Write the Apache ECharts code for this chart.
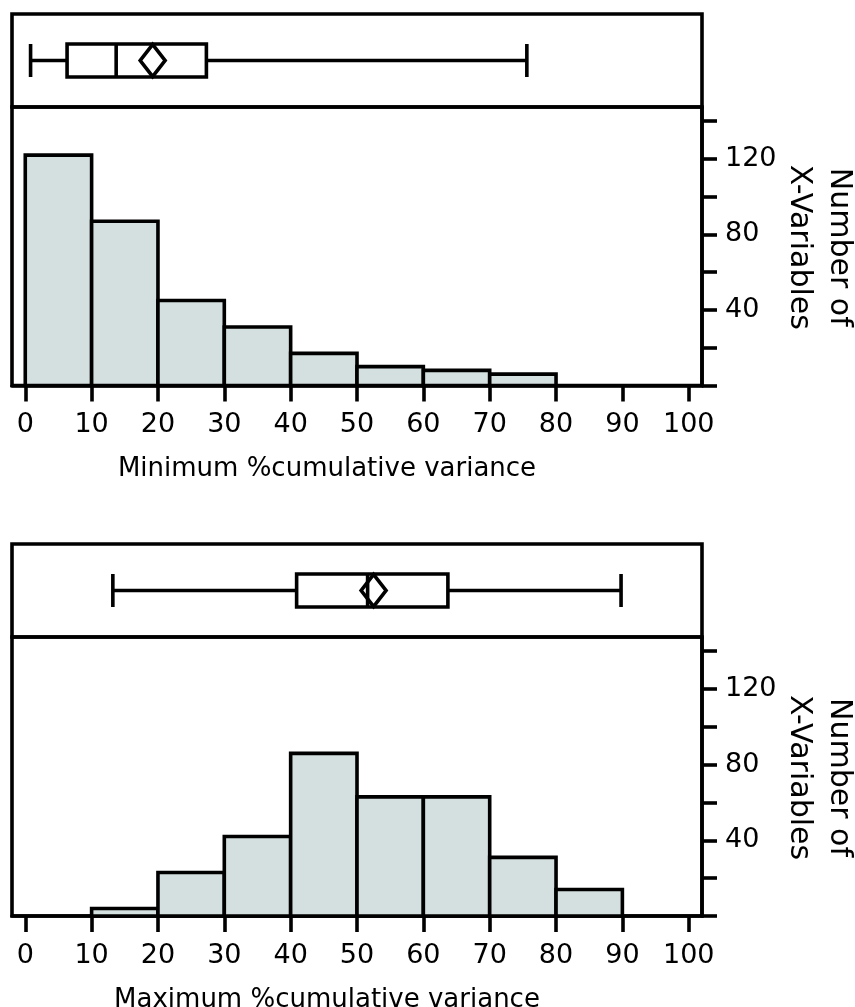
<!DOCTYPE html>
<html>
<head>
<meta charset="utf-8">
<script src="https://cdn.jsdelivr.net/npm/echarts@6/dist/echarts.min.js"></script>
<style>
  html, body { margin: 0; padding: 0; background: #ffffff; }
  #chart { width: 855px; height: 1007px; }
</style>
</head>
<body>
<div id="chart"></div>
<script>
// Histogram bins: lower edges (width 10) and counts of X-variables per bin
const minBinStarts = [0, 10, 20, 30, 40, 50, 60, 70];
const minCounts    = [122, 87, 45, 31, 17, 10, 8, 6];
const maxBinStarts = [10, 20, 30, 40, 50, 60, 70, 80];
const maxCounts    = [4, 23, 42, 86, 63, 63, 31, 14];
const binWidth = 10;

// Box summaries: [min, Q1, median, Q3, max] and mean
const minBox  = [0.8, 6.3, 13.7, 27.3, 75.6];
const minMean = 19.2;
const maxBox  = [13.2, 40.9, 51.6, 63.7, 89.8];
const maxMean = 52.5;

// Axis ticks and labels
const xTickValues  = [0, 10, 20, 30, 40, 50, 60, 70, 80, 90, 100];
const yTickValues  = [0, 20, 40, 60, 80, 100, 120, 140];
const yLabelValues = [40, 80, 120];
const xTitles = ['Minimum %cumulative variance', 'Maximum %cumulative variance'];
const yTitle = 'Number of\nX-Variables';

const FONT = 'DejaVu Sans, sans-serif';
const INK = '#000000';
const FILL = '#d4dfdf';
const LW = 3.6;

const X_MIN = -2, X_MAX = 102, Y_MAX = 147.5;

function bins(starts, counts) {
  return starts.map((s, i) => [s, s + binWidth, counts[i]]);
}

// Panel layout in pixels
const PLOT_LEFT = 12, PLOT_WIDTH = 690;
const panels = [
  { boxTop: 14,  boxH: 93, histTop: 107, histH: 278.5 },
  { boxTop: 544, boxH: 93, histTop: 637, histH: 279 }
];

const gridBase = {
  left: PLOT_LEFT, width: PLOT_WIDTH, show: true, borderColor: INK, borderWidth: LW,
  backgroundColor: 'transparent', outerBoundsMode: 'none', containLabel: false
};
const grids = [];
panels.forEach(p => {
  grids.push(Object.assign({}, gridBase, { top: p.boxTop, height: p.boxH }));
  grids.push(Object.assign({}, gridBase, { top: p.histTop, height: p.histH }));
});

function boxX(gi) {
  return { type: 'value', gridIndex: gi, min: X_MIN, max: X_MAX, show: false };
}
function histX(gi, title) {
  return {
    type: 'value', gridIndex: gi, min: X_MIN, max: X_MAX,
    axisLine: { show: true, onZero: false, lineStyle: { color: INK, width: LW } },
    axisTick: { show: true, inside: false, length: 16, customValues: xTickValues,
                lineStyle: { color: INK, width: LW } },
    axisLabel: { show: true, customValues: xTickValues, margin: 26,
                 color: INK, fontFamily: FONT, fontSize: 27 },
    splitLine: { show: false },
    name: title, nameLocation: 'middle', nameGap: 71, nameMoveOverlap: false,
    nameTextStyle: { color: INK, fontFamily: FONT, fontSize: 26, padding: [0, 60, 0, 0] }
  };
}
function boxY(gi) {
  return { type: 'category', gridIndex: gi, data: ['box'], show: false };
}
function histY(gi) {
  return {
    type: 'value', gridIndex: gi, position: 'right', min: 0, max: Y_MAX,
    axisLine: { show: true, onZero: false, lineStyle: { color: INK, width: LW } },
    axisTick: { show: true, inside: false, length: 15, customValues: yTickValues,
                lineStyle: { color: INK, width: LW } },
    axisLabel: { show: true, customValues: yLabelValues, margin: 23,
                 color: INK, fontFamily: FONT, fontSize: 27 },
    splitLine: { show: false }
  };
}

// Vertical y-axis title, read top to bottom, to the right of each histogram
function yTitleText(p) {
  return {
    type: 'text', silent: true,
    x: PLOT_LEFT + PLOT_WIDTH + 117, y: p.histTop + p.histH / 2 + 1,
    rotation: -Math.PI / 2,
    style: {
      text: yTitle, fill: INK, font: '30px ' + FONT, lineHeight: 40,
      align: 'center', verticalAlign: 'middle'
    }
  };
}

function histSeries(gi, data) {
  return {
    type: 'custom', xAxisIndex: gi, yAxisIndex: gi, data: data,
    silent: true,
    renderItem: function (params, api) {
      const p0 = api.coord([api.value(0), api.value(2)]);
      const p1 = api.coord([api.value(1), 0]);
      return {
        type: 'rect',
        shape: { x: p0[0], y: p0[1], width: p1[0] - p0[0], height: p1[1] - p0[1] },
        style: { fill: FILL, stroke: INK, lineWidth: LW }
      };
    }
  };
}
function boxSeries(gi, stats) {
  return {
    type: 'boxplot', xAxisIndex: gi, yAxisIndex: gi, data: [stats],
    boxWidth: [33, 33], silent: true,
    itemStyle: { color: '#ffffff', borderColor: INK, borderWidth: LW },
    emphasis: { disabled: true }
  };
}
function meanSeries(gi, mean) {
  return {
    type: 'scatter', xAxisIndex: gi, yAxisIndex: gi, data: [[mean, 0]],
    symbol: 'diamond', symbolSize: [25, 32], silent: true, z: 5,
    itemStyle: { color: 'rgba(0,0,0,0)', borderColor: INK, borderWidth: LW, opacity: 1 }
  };
}

const chart = echarts.init(document.getElementById('chart'), null, { renderer: 'canvas' });
chart.setOption({
  animation: false,
  backgroundColor: '#ffffff',
  grid: grids,
  xAxis: [boxX(0), histX(1, xTitles[0]), boxX(2), histX(3, xTitles[1])],
  yAxis: [boxY(0), histY(1), boxY(2), histY(3)],
  graphic: panels.map(yTitleText),
  series: [
    boxSeries(0, minBox), meanSeries(0, minMean),
    histSeries(1, bins(minBinStarts, minCounts)),
    boxSeries(2, maxBox), meanSeries(2, maxMean),
    histSeries(3, bins(maxBinStarts, maxCounts))
  ]
});
</script>
</body>
</html>
